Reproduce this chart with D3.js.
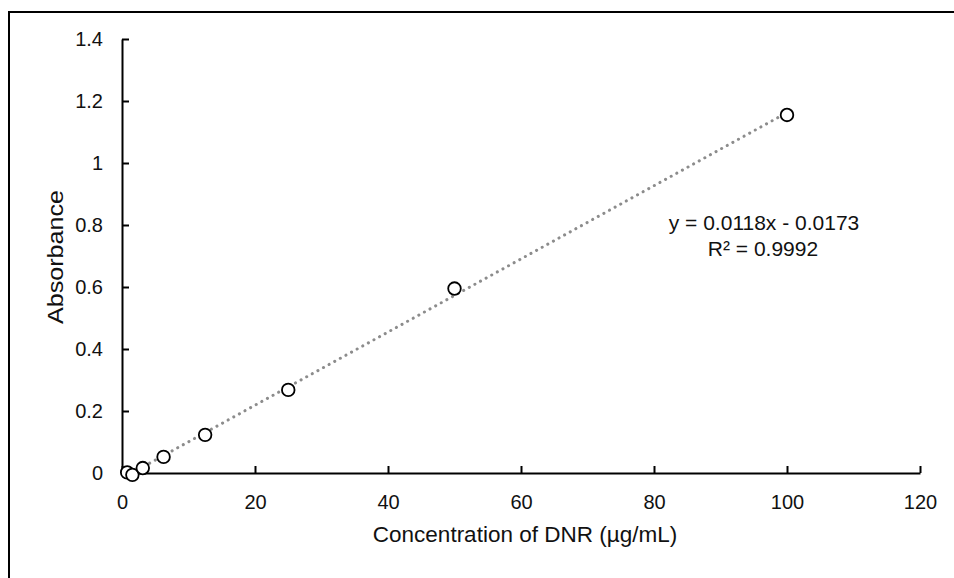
<!DOCTYPE html>
<html lang="en">
<head>
<meta charset="utf-8">
<title>DNR calibration</title>
<script src="https://d3js.org/d3.v7.min.js"></script>
<style>
  body { margin: 0; background: #fff; }
  svg text { font-family: "Liberation Sans", Arial, sans-serif; fill: #111; }
</style>
</head>
<body>
<svg id="chart" width="954" height="578"></svg>
<script>
// concentration (ug/mL) and absorbance
var concentration = [0.78125, 1.5625, 3.125, 6.25, 12.5, 25, 50, 100];
var absorbance = [0.002, -0.006, 0.016, 0.052, 0.123, 0.268, 0.595, 1.155];
var slope = 0.0118, intercept = -0.0173;
var xTicks = [0, 20, 40, 60, 80, 100, 120];
var yTicks = [0, 0.2, 0.4, 0.6, 0.8, 1, 1.2, 1.4];

var svg = d3.select("#chart");

// outer frame (runs off the right/bottom of the picture)
svg.append("rect")
  .attr("x", 9).attr("y", 12)
  .attr("width", 960).attr("height", 580)
  .attr("fill", "none").attr("stroke", "#000").attr("stroke-width", 2);

var x = d3.scaleLinear().domain([0, 120]).range([122, 920]);
var y = d3.scaleLinear().domain([0, 1.4]).range([473, 39]);

// axes - ticks point inward like excel
var xAxis = svg.append("g").attr("transform", "translate(0," + y(0) + ")")
  .call(d3.axisBottom(x).tickValues(xTicks).tickSizeInner(-7).tickSizeOuter(0).tickPadding(22).tickFormat(d3.format("d")));
var yAxis = svg.append("g").attr("transform", "translate(" + x(0) + ",0)")
  .call(d3.axisLeft(y).tickValues(yTicks).tickSizeInner(-7).tickSizeOuter(0).tickPadding(19).tickFormat(function(d){ return d === 0 ? "0" : d3.format("~g")(d); }));

[xAxis, yAxis].forEach(function(g) {
  g.select(".domain").attr("stroke", "#000").attr("stroke-width", 2);
  g.selectAll(".tick line").attr("stroke", "#000").attr("stroke-width", 2);
  g.selectAll(".tick text").attr("font-size", 20).attr("fill", "#111")
    .attr("font-family", "Liberation Sans, Arial, sans-serif");
});

// trendline over the data range
var xr = d3.extent(concentration);
svg.append("line")
  .attr("x1", x(xr[0])).attr("y1", y(slope * xr[0] + intercept))
  .attr("x2", x(xr[1])).attr("y2", y(slope * xr[1] + intercept))
  .attr("stroke", "#8c8c8c").attr("stroke-width", 3)
  .attr("stroke-linecap", "round").attr("stroke-dasharray", "0.1 6.3");

// points
svg.selectAll("circle.pt").data(concentration).enter().append("circle")
  .attr("class", "pt")
  .attr("cx", function(d){ return x(d); })
  .attr("cy", function(d, i){ return y(absorbance[i]); })
  .attr("r", 6.3)
  .attr("fill", "#fff").attr("stroke", "#000").attr("stroke-width", 1.8);

// equation
svg.append("text").attr("x", 764).attr("y", 230).attr("text-anchor", "middle")
  .attr("font-size", 21).text("y = 0.0118x - 0.0173");
svg.append("text").attr("x", 763).attr("y", 256).attr("text-anchor", "middle")
  .attr("font-size", 21).text("R\u00b2 = 0.9992");

// axis titles
svg.append("text").attr("x", 525).attr("y", 542).attr("text-anchor", "middle")
  .attr("font-size", 22.5).text("Concentration of DNR (\u00b5g/mL)");
svg.append("text").attr("transform", "translate(63,257) rotate(-90)")
  .attr("text-anchor", "middle").attr("font-size", 22)
  .attr("textLength", 134).attr("lengthAdjust", "spacingAndGlyphs")
  .text("Absorbance");
</script>
</body>
</html>
